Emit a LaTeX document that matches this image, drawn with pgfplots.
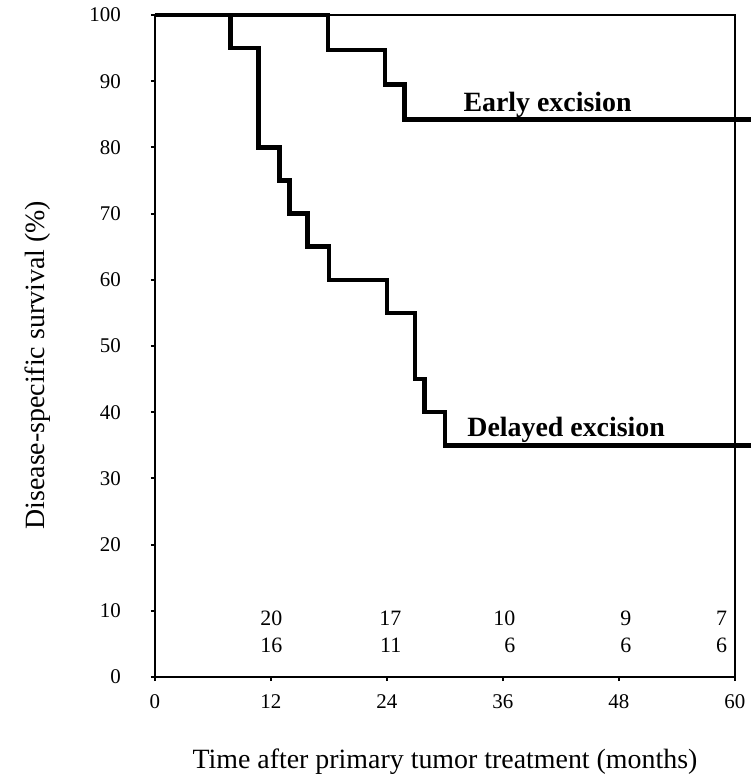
\documentclass[border=0pt]{standalone}
\usepackage{fontspec}
\setmainfont{Liberation Serif}
\usepackage{pgfplots}
\pgfplotsset{compat=1.18}
\tikzset{risk/.style={anchor=east, inner sep=0pt, font=\fontsize{22}{24}\selectfont}}

\begin{document}
\begin{tikzpicture}
\begin{axis}[
    scale only axis,
    width=580bp, height=662bp,
    xmin=0, xmax=60, ymin=0, ymax=100,
    xtick={0,12,24,36,48,60},
    ytick={0,10,...,100},
    tick pos=left,
    tick align=outside,
    major tick length=4bp,
    every tick/.style={black, line width=2bp},
    axis line style={line width=1.5bp},
    clip=false,
    /pgf/number format/assume math mode=true,
    ticklabel style={font=\fontsize{21}{24}\selectfont},
    xticklabel style={anchor=north, inner sep=0pt},
    xticklabel shift=13bp,
    yticklabel style={anchor=east, inner sep=0pt},
    yticklabel shift=30bp,
    label style={font=\fontsize{28}{32}\selectfont},
    xlabel={Time after primary tumor treatment (months)},
    ylabel={Disease-specific survival (\%)},
    xlabel style={at={(axis description cs:0.5,-0.128)}, anchor=center},
    ylabel style={at={(axis description cs:-0.202,0.471)}, anchor=center, rotate=0},
]
% Early excision
\addplot[const plot, black, line width=4.5bp] coordinates {
    (0,100) (17.9,94.7) (23.8,89.5) (25.8,84.2) (61.7,84.2)
};
% Delayed excision
\addplot[const plot, black, line width=4.5bp] coordinates {
    (0,100) (7.8,95) (10.7,80) (12.9,75) (13.9,70) (15.8,65) (18,60)
    (24,55) (26.9,45) (27.9,40) (30,35) (61.7,35)
};

\node[anchor=base west, font=\bfseries\fontsize{28}{32}\selectfont, inner sep=0pt]
    at (axis cs:31.9,85.4) {Early excision};
\node[anchor=base west, font=\bfseries\fontsize{28}{32}\selectfont, inner sep=0pt]
    at (axis cs:32.3,36.4) {Delayed excision};

% numbers at risk
\node[risk] at (axis cs:13.2,8.9) {20};
\node[risk] at (axis cs:13.2,4.8) {16};
\node[risk] at (axis cs:25.5,8.9) {17};
\node[risk] at (axis cs:25.5,4.8) {11};
\node[risk] at (axis cs:37.3,8.9) {10};
\node[risk] at (axis cs:37.3,4.8) {6};
\node[risk] at (axis cs:49.3,8.9) {9};
\node[risk] at (axis cs:49.3,4.8) {6};
\node[risk] at (axis cs:59.2,8.9) {7};
\node[risk] at (axis cs:59.2,4.8) {6};

\coordinate (bbsw) at (axis cs:-16.03,-14.65);
\coordinate (bbne) at (axis cs:61.65,102.27);
\end{axis}
\pgfresetboundingbox
\useasboundingbox (bbsw) rectangle (bbne);
\end{tikzpicture}
\end{document}
